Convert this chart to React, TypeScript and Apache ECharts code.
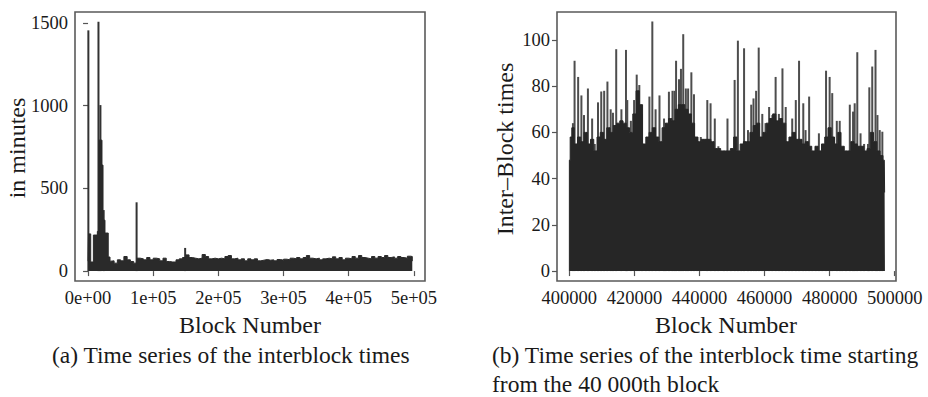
import React, { useEffect, useRef } from "react";
import * as echarts from "echarts";

// ---------- Panel (a): whole chain ----------
const leftBodyBlocks = [0, 800, 4100, 8200, 14300, 16500, 21400, 23000, 26000, 31000, 33700,
  35000, 40000, 45000, 50000, 55000, 60000, 65000, 70000, 75000, 80000, 85000, 90000, 95000,
  100000, 105000, 110000, 115000, 120000, 125000, 130000, 135000, 140000, 145000, 150000, 155000,
  160000, 165000, 170000, 175000, 180000, 185000, 190000, 195000, 200000, 205000, 210000, 215000,
  220000, 225000, 230000, 235000, 240000, 245000, 250000, 255000, 260000, 265000, 270000, 275000,
  280000, 285000, 290000, 295000, 300000, 305000, 310000, 315000, 320000, 325000, 330000, 335000,
  340000, 345000, 350000, 355000, 360000, 365000, 370000, 375000, 380000, 385000, 390000, 395000,
  400000, 405000, 410000, 415000, 420000, 425000, 430000, 435000, 440000, 445000, 450000, 455000,
  460000, 465000, 470000, 475000, 480000, 485000, 490000, 495000, 497500];
const leftBodyValues = [60, 225, 55, 218, 240, 792, 641, 308, 230, 85, 60,
  62, 48, 68, 62, 88, 68, 58, 48, 78, 74, 68, 82, 68,
  78, 74, 62, 78, 58, 55, 55, 68, 74, 82, 98, 82,
  78, 74, 78, 100, 88, 74, 78, 74, 78, 74, 88, 94,
  74, 78, 68, 74, 62, 74, 68, 74, 62, 66, 70, 66,
  68, 62, 70, 66, 72, 68, 78, 74, 82, 74, 82, 94,
  78, 74, 78, 68, 74, 78, 74, 86, 74, 82, 68, 78,
  74, 88, 78, 94, 82, 78, 74, 88, 78, 88, 82, 94,
  82, 86, 78, 88, 82, 78, 90, 88, 60];
const leftSpikeBlocks = [500, 16000, 19000, 24000, 74500, 149000];
const leftSpikeValues = [1456, 1508, 1004, 369, 416, 140];
const leftXTicks = [0, 100000, 200000, 300000, 400000, 500000];
const leftXLabels = ["0e+00", "1e+05", "2e+05", "3e+05", "4e+05", "5e+05"];
const leftYTicks = [0, 500, 1000, 1500];

// ---------- Panel (b): from block 400 000 ----------
const rightBodyBlocks = [400000, 400000, 400500, 401000, 402000, 403000, 404000, 405000, 406000, 407000,
  408000, 409000, 410000, 411000, 412000, 413000, 414000, 415000, 416000, 417000, 418000, 419000,
  420000, 421000, 422000, 423000, 424000, 425000, 426000, 427000, 428000, 429000, 430000, 431000,
  432000, 433000, 434000, 435000, 436000, 437000, 438000, 439000, 440000, 441000, 442000, 443000,
  444000, 445000, 446000, 447000, 448000, 449000, 450000, 451000, 452000, 453000, 454000, 455000,
  456000, 457000, 458000, 459000, 460000, 461000, 462000, 463000, 464000, 465000, 466000, 467000,
  468000, 469000, 470000, 471000, 472000, 473000, 474000, 475000, 476000, 477000, 478000, 479000,
  480000, 481000, 482000, 483000, 484000, 485000, 486000, 487000, 488000, 489000, 490000, 491000,
  492000, 493000, 494000, 495000, 496000, 496800, 497000];
const rightBodyValues = [0, 48, 58, 62, 55, 58, 56, 60, 55, 57,
  52, 58, 60, 57, 62, 60, 63, 64, 65, 64, 62, 60,
  68, 78, 72, 55, 58, 60, 62, 58, 56, 62, 64, 66,
  65, 70, 72, 72, 70, 68, 64, 58, 56, 57, 57, 57,
  56, 53, 53, 52, 52, 52, 53, 58, 52, 55, 56, 56,
  60, 63, 64, 58, 60, 64, 66, 68, 65, 66, 64, 56,
  58, 60, 57, 57, 55, 56, 54, 52, 54, 52, 55, 58,
  62, 58, 55, 60, 54, 52, 52, 56, 55, 54, 54, 52,
  53, 60, 56, 52, 50, 48, 34];
const rightSpikeBlocks = [401100, 401600, 402700, 403700, 404500, 405700, 407000, 407800, 408800, 409800,
  410700, 411700, 412700, 413400, 414400, 416000, 417400, 417800, 418900, 419900, 420700, 421500,
  422300, 423500, 424600, 425500, 426500, 427700, 429100, 429600, 430600, 431700, 432300, 432800,
  433700, 434300, 435000, 435800, 436500, 437500, 438300, 439300, 440400, 442400, 443400, 444700,
  445800, 447500, 448600, 449600, 450800, 451800, 452900, 453700, 454900, 455900, 456600, 457400,
  458200, 459300, 460300, 461400, 462400, 463400, 464400, 465500, 466500, 467500, 468500, 469600,
  470600, 471900, 472600, 473700, 474700, 475700, 476700, 477800, 478900, 480000, 480800, 482200,
  483100, 483900, 485000, 486200, 487200, 487700, 488500, 489500, 490600, 491800, 492200, 493100,
  494100, 494700, 495400, 496200];
const rightSpikeValues = [64, 91, 84, 76, 67.5, 79, 66, 55, 73, 77.7,
  78, 82, 70, 68.5, 96, 70, 95.7, 74, 65, 74, 85, 80.5,
  68, 46, 75.5, 108, 70, 76, 66, 64, 77.6, 78, 78, 91,
  83, 87.5, 102.5, 79, 79, 86, 76.5, 58, 58, 74, 72.6, 66,
  54, 52, 66, 52, 82.7, 99.7, 51.7, 96.4, 61, 72, 74.7, 78,
  96.7, 68, 64, 71, 67.5, 84, 68, 87.7, 71, 54, 66, 74,
  91, 72.6, 61, 75.5, 46, 51, 59.6, 54, 86.7, 84, 77, 65,
  65, 51, 48, 72, 69, 72.6, 94.7, 59.6, 55, 55, 79.5, 88.5,
  95.7, 67.5, 61, 60.3];
const rightXTicks = [400000, 420000, 440000, 460000, 480000, 500000];
const rightYTicks = [0, 20, 40, 60, 80, 100];

const FONT = "Liberation Serif";
const TXT = "#1a1a1a";
const AXC = "#555555";

function zip(a: number[], b: number[]) {
  return a.map((v, i) => [v, b[i]]);
}

export default function App() {
  const ref = useRef<HTMLDivElement>(null);
  useEffect(() => {
    if (!ref.current) return;
    const chart = echarts.init(ref.current, null, { renderer: "svg" });
    const xAxisCommon = (ticks: number[], fmt: (v: number) => string) => ({
      type: "value" as const,
      splitLine: { show: false },
      axisLine: { show: false },
      axisTick: { show: true, length: 5, customValues: ticks, lineStyle: { color: AXC, width: 1.2 } },
      axisLabel: {
        customValues: ticks,
        formatter: fmt,
        margin: 7,
        fontFamily: FONT,
        fontSize: 18.5,
        color: TXT,
      },
    });
    const yAxisCommon = (ticks: number[]) => ({
      type: "value" as const,
      splitLine: { show: false },
      axisLine: { show: false },
      axisTick: { show: true, length: 5, customValues: ticks, lineStyle: { color: AXC, width: 1.2 } },
      axisLabel: {
        customValues: ticks,
        formatter: (v: number) => String(v),
        margin: 7,
        fontFamily: FONT,
        fontSize: 18.5,
        color: TXT,
      },
    });
    const txt = (text: string, x: number, y: number, size: number, align: string, rot = 0) => ({
      type: "text",
      x,
      y,
      rotation: rot,
      style: { text, fontFamily: FONT, fontSize: size, fill: TXT, align, verticalAlign: "middle" },
    });
    const option: any = {
      animation: false,
      backgroundColor: "#ffffff",
      textStyle: { fontFamily: FONT },
      grid: [
        { left: 75, top: 12, width: 350, height: 269, show: true, borderColor: "#5a5a5a", borderWidth: 1.6, backgroundColor: "#fff" },
        { left: 557, top: 12, width: 339, height: 269, show: true, borderColor: "#5a5a5a", borderWidth: 1.6, backgroundColor: "#fff" },
      ],
      xAxis: [
        {
          ...xAxisCommon(leftXTicks, (v: number) => {
            const i = leftXTicks.indexOf(v);
            return i >= 0 ? leftXLabels[i] : "";
          }),
          gridIndex: 0,
          min: -20000,
          max: 517000,
        },
        {
          ...xAxisCommon(rightXTicks, (v: number) => String(v)),
          gridIndex: 1,
          min: 396200,
          max: 500400,
        },
      ],
      yAxis: [
        { ...yAxisCommon(leftYTicks), gridIndex: 0, min: -60, max: 1567 },
        { ...yAxisCommon(rightYTicks), gridIndex: 1, min: -4.3, max: 112.1 },
      ],
      series: [
        {
          type: "bar",
          xAxisIndex: 0,
          yAxisIndex: 0,
          barWidth: 2,
          itemStyle: { color: "#333333" },
          data: zip(leftSpikeBlocks, leftSpikeValues),
          z: 2,
        },
        {
          type: "line",
          xAxisIndex: 0,
          yAxisIndex: 0,
          step: "end",
          symbol: "none",
          lineStyle: { color: "#2a2a2a", width: 1 },
          areaStyle: { color: "#2a2a2a", opacity: 1 },
          data: zip(leftBodyBlocks, leftBodyValues),
          z: 3,
        },
        {
          type: "bar",
          xAxisIndex: 1,
          yAxisIndex: 1,
          barWidth: 2,
          itemStyle: { color: "#4d4d4d" },
          data: zip(rightSpikeBlocks, rightSpikeValues),
          z: 2,
        },
        {
          type: "line",
          xAxisIndex: 1,
          yAxisIndex: 1,
          step: "middle",
          symbol: "none",
          lineStyle: { color: "#262626", width: 1 },
          areaStyle: { color: "#262626", opacity: 1 },
          data: zip(rightBodyBlocks, rightBodyValues),
          z: 3,
        },
      ],
      graphic: [
        txt("Block Number", 250, 325, 24, "center"),
        txt("Block Number", 726, 325, 24, "center"),
        txt("in minutes", 17, 148, 24, "center", Math.PI / 2),
        txt("Inter\u2013Block times", 505, 149, 24, "center", Math.PI / 2),
        txt("(a) Time series of the interblock times", 52, 355, 23.5, "left"),
        txt("(b) Time series of the interblock time starting", 492, 355, 23.5, "left"),
        txt("from the 40 000th block", 492, 384, 23.5, "left"),
      ],
    };
    chart.setOption(option);
    return () => chart.dispose();
  }, []);
  return (
    <div
      ref={ref}
      style={{ position: "fixed", left: 0, top: 0, width: 928, height: 397, background: "#fff" }}
    />
  );
}
